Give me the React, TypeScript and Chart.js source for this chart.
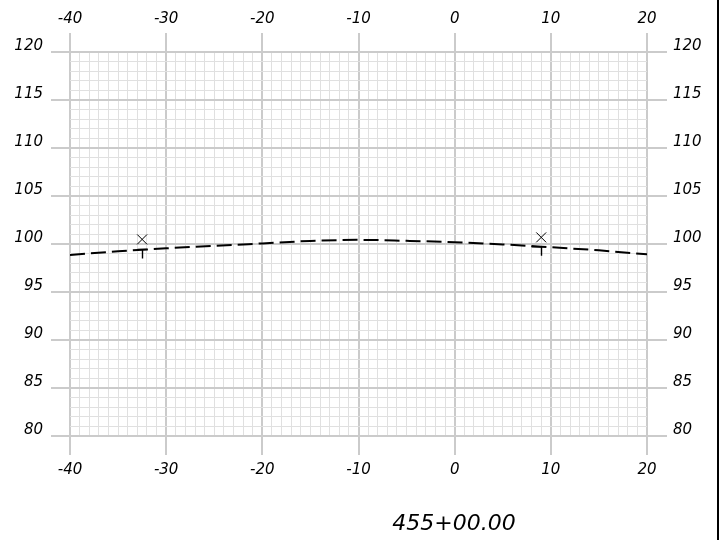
import React, { useEffect, useRef } from 'react';
import { Chart, registerables } from 'chart.js';

Chart.register(...registerables);

// ---- data ----
const profileX = [-40, -35, -30, -25, -20, -15, -10, -5, 0, 5, 10, 15, 20];
const profileY = [98.85, 99.24, 99.55, 99.8, 100.06, 100.32, 100.43, 100.33, 100.19, 99.96, 99.66, 99.34, 98.92];
const crossX = [-32.5, 9];
const crossY = [100.48, 100.69];
const stakeX = [-32.5, 9];
const stakeY = [99.44, 99.71];
const stakeSide = ['center', 'left'];
const xMajorTicks = [-40, -30, -20, -10, 0, 10, 20];
const yMajorTicks = [80, 85, 90, 95, 100, 105, 110, 115, 120];
const stationLabel = '455+00.00';

const X_MIN = -40, X_MAX = 20, Y_MIN = 80, Y_MAX = 120;
const MAJOR = '#cbcbcb';
const MINOR = '#e0e0e0';
const FONT = { family: '"DejaVu Sans", sans-serif', style: 'italic' as const, size: 15 };

const isMajorX = (v: number) => xMajorTicks.includes(v);
const isMajorY = (v: number) => yMajorTicks.includes(v);

const overlay = {
  id: 'overlay',
  afterDatasetsDraw(chart: any) {
    const { ctx, scales } = chart;
    const x = scales.x, y = scales.y;
    ctx.save();
    ctx.strokeStyle = '#000';
    ctx.lineWidth = 1.4;
    stakeX.forEach((sx, i) => {
      const px = Math.round(x.getPixelForValue(sx)) + 0.5;
      const py = y.getPixelForValue(stakeY[i]);
      ctx.beginPath();
      if (stakeSide[i] === 'center') {
        ctx.moveTo(px - 5, py);
        ctx.lineTo(px + 5, py);
      } else {
        ctx.moveTo(px - 10, py);
        ctx.lineTo(px, py);
      }
      ctx.moveTo(px, py);
      ctx.lineTo(px, py + 9);
      ctx.stroke();
    });
    ctx.restore();
  },
  afterDraw(chart: any) {
    const { ctx } = chart;
    ctx.save();
    ctx.fillStyle = '#000';
    ctx.fillRect(717, 0, 2, 540);
    ctx.font = 'italic 22px "DejaVu Sans", sans-serif';
    ctx.textAlign = 'center';
    ctx.textBaseline = 'alphabetic';
    ctx.fillText(stationLabel, 454, 530);
    ctx.restore();
  },
};

function xAxis(position: 'top' | 'bottom', onArea: boolean, size: number, padding: number) {
  return {
    type: 'linear' as const,
    position,
    min: X_MIN,
    max: X_MAX,
    afterFit(scale: any) { scale.height = size; },
    border: { display: false },
    grid: {
      drawOnChartArea: onArea,
      tickLength: 19,
      color: (c: any) => (c.tick && isMajorX(c.tick.value) ? MAJOR : MINOR),
      lineWidth: (c: any) => (c.tick && isMajorX(c.tick.value) ? 2 : 1),
      tickColor: (c: any) => (c.tick && isMajorX(c.tick.value) ? MAJOR : 'rgba(0,0,0,0)'),
      tickWidth: 2,
    },
    ticks: {
      stepSize: 1,
      autoSkip: false,
      maxRotation: 0,
      padding,
      color: '#000',
      font: FONT,
      callback: (v: any) => (isMajorX(Number(v)) ? String(v) : ''),
    },
  };
}

function yAxis(position: 'left' | 'right', onArea: boolean, size: number, tickLength: number, padding: number) {
  return {
    type: 'linear' as const,
    position,
    min: Y_MIN,
    max: Y_MAX,
    afterFit(scale: any) { scale.width = size; },
    border: { display: false },
    grid: {
      drawOnChartArea: onArea,
      tickLength,
      color: (c: any) => (c.tick && isMajorY(c.tick.value) ? MAJOR : MINOR),
      lineWidth: (c: any) => (c.tick && isMajorY(c.tick.value) ? 2 : 1),
      tickColor: (c: any) => (c.tick && isMajorY(c.tick.value) ? MAJOR : 'rgba(0,0,0,0)'),
      tickWidth: 2,
    },
    ticks: {
      stepSize: 1,
      autoSkip: false,
      padding,
      labelOffset: -6,
      color: '#000',
      font: FONT,
      callback: (v: any) => (isMajorY(Number(v)) ? String(v) : ''),
    },
  };
}

export default function App() {
  const ref = useRef<HTMLCanvasElement | null>(null);
  useEffect(() => {
    if (!ref.current) return;
    const chart = new Chart(ref.current, {
      type: 'line',
      data: {
        datasets: [
          {
            label: 'profile',
            data: profileX.map((x, i) => ({ x, y: profileY[i] })),
            borderColor: '#000',
            borderWidth: 2,
            borderDash: [15, 6],
            pointRadius: 0,
            fill: false,
            cubicInterpolationMode: 'monotone',
            xAxisID: 'x',
            yAxisID: 'y',
          },
          {
            label: 'marks',
            data: crossX.map((x, i) => ({ x, y: crossY[i] })),
            showLine: false,
            pointStyle: 'crossRot',
            pointRadius: 7,
            borderColor: '#000',
            borderWidth: 1,
            xAxisID: 'x',
            yAxisID: 'y',
          },
        ],
      } as any,
      options: {
        responsive: false,
        animation: false,
        layout: { padding: 0 },
        plugins: { legend: { display: false }, tooltip: { enabled: false }, title: { display: false } },
        scales: {
          x: xAxis('bottom', true, 104, 6),
          x2: xAxis('top', false, 52, 5),
          y: yAxis('left', true, 70, 19, 8),
          y2: yAxis('right', false, 72, 20, 6),
        } as any,
      },
      plugins: [overlay],
    });
    return () => chart.destroy();
  }, []);
  return (
    <div style={{ position: 'fixed', left: 0, top: 0, width: 719, height: 540, background: '#fff' }}>
      <canvas ref={ref} width={719} height={540} style={{ display: 'block', width: 719, height: 540 }} />
    </div>
  );
}
